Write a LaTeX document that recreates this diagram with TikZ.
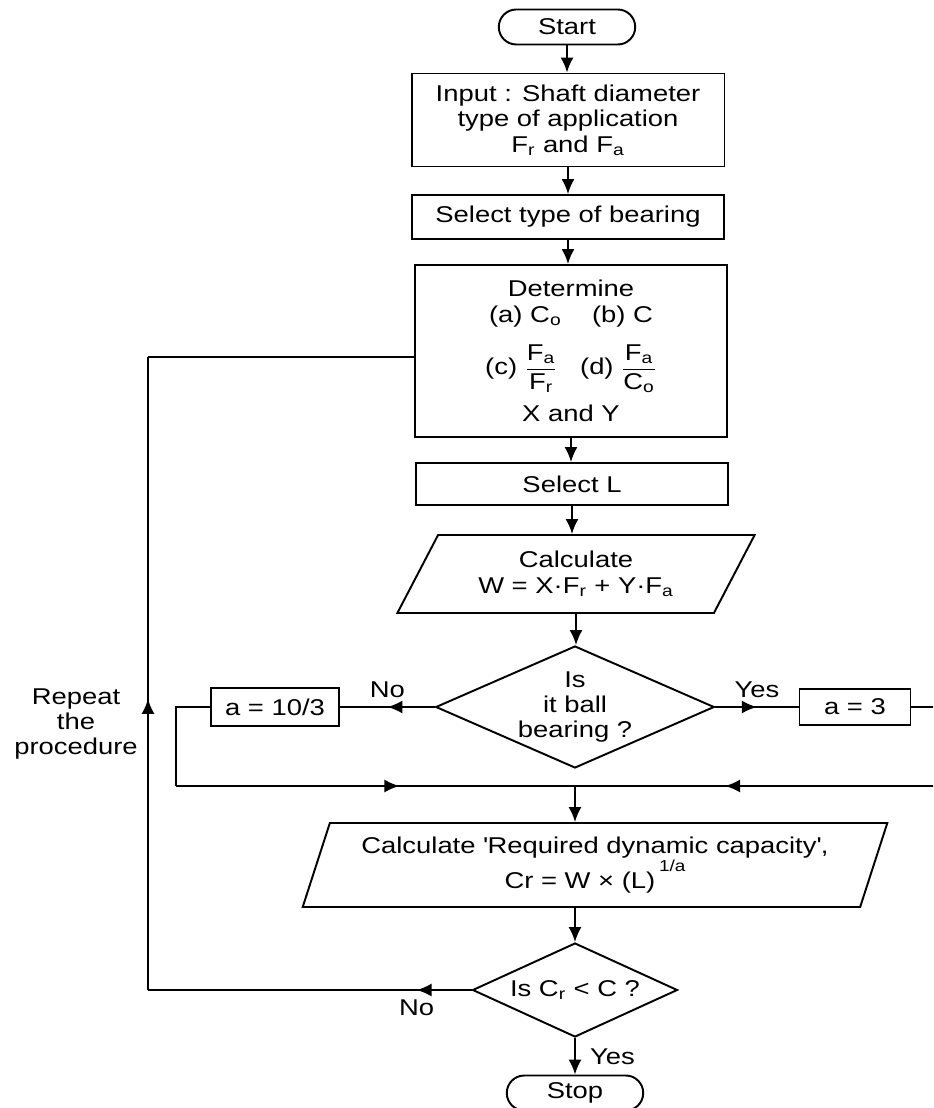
\documentclass[tikz,border=0pt]{standalone}
\usepackage{amsmath}
\usepackage{fontspec}
\setmainfont{Liberation Sans}[FakeStretch=1.2]
\usetikzlibrary{arrows.meta, positioning, shapes.geometric, shapes.misc, decorations.markings}

\begin{document}
\begin{tikzpicture}[
    x=0.02cm, y=-0.02cm,
    font=\fontsize{13}{14.5}\selectfont,
    line width=1.1pt,
    term/.style={draw, rounded rectangle, minimum width=2.8cm, minimum height=0.7cm, inner sep=1pt},
    box/.style={draw, rectangle, align=center, inner sep=2pt},
    io/.style={draw, trapezium, trapezium stretches=true, align=center, inner sep=1pt},
    dec/.style={draw, diamond, aspect=#1, align=center, inner sep=0pt},
    dec/.default=2.2,
    arr/.style={-{Latex[length=3mm, width=2.6mm]}},
    midarr/.style={postaction={decorate}, decoration={markings,
        mark=at position #1 with {\arrow{Latex[length=3mm, width=2.6mm]}}}},
    lbl/.style={align=center, inner sep=2pt},
]
\useasboundingbox (0,0) rectangle (933,1108);
\clip (0,0) rectangle (933,1108);

% Main column
\node[term] (start) at (567,27) {Start};
\node[box, minimum width=6.26cm, minimum height=1.86cm] (inp) at (568,120)
    {Input : Shaft diameter\\type of application\\F\textsubscript{r} and F\textsubscript{a}};
\node[box, minimum width=6.24cm, minimum height=0.88cm] (seltype) at (568,217) {Select type of bearing};
\node[box, minimum width=6.24cm, minimum height=3.44cm] (det) at (571,351)
    {Determine\\(a) C\textsubscript{o}\quad\ (b) C\\[9pt]
     (c) $\dfrac{\text{F}_\text{a}}{\text{F}_\text{r}}$\quad (d) $\dfrac{\text{F}_\text{a}}{\text{C}_\text{o}}$\\[6pt]
     X and Y};
\node[box, minimum width=6.24cm, minimum height=0.84cm] (sell) at (572,484) {Select L};
\node[io, trapezium left angle=59, trapezium right angle=121,
      minimum width=7.16cm, minimum height=1.56cm] (calcw) at (576,574)
    {Calculate\\W = X·F\textsubscript{r} + Y·F\textsubscript{a}};
\node[dec=2.3, minimum width=5.5cm, minimum height=2.44cm] (ball) at (575,707) {Is\\it ball\\bearing ?};

% Branches
\node[box, minimum width=2.56cm, minimum height=0.76cm] (a103) at (275,707) {a = 10/3};
\node[box, minimum width=2.22cm, minimum height=0.72cm] (a3) at (855,707) {a = 3};

\node[io, trapezium left angle=68, trapezium right angle=112,
      minimum width=11.74cm, minimum height=1.68cm] (calcr) at (595,865)
    {Calculate \textquotesingle Required dynamic capacity\textquotesingle,\\
     Cr = W × (L)\,\raisebox{1.4ex}{\fontsize{9}{9}\selectfont 1/a}};
\node[dec=2.2, minimum width=4.1cm, minimum height=1.88cm] (chk) at (575,990) {Is C\textsubscript{r} < C ?};
\node[term] (stop) at (575,1093) {Stop};

% Corner points
\coordinate (mrg) at (575,786);
\coordinate (lft) at (176,786);
\coordinate (rgt) at (950,786);
\coordinate (fbb) at (148,990);
\coordinate (fbt) at (148,357);

% Arrows
\draw[arr] (start.south) -- (start.south |- inp.north);
\draw[arr] (inp.south) -- (inp.south |- seltype.north);
\draw[arr] (seltype.south) -- (seltype.south |- det.north);
\draw[arr] (det.south) -- (det.south |- sell.north);
\draw[arr] (sell.south) -- (sell.south |- calcw.north);
\draw[arr] (calcw.south) -- (calcw.south |- ball.north);
\draw[midarr=0.5] (ball.west) -- node[lbl, above=3pt] {No} (a103.east);
\draw[midarr=0.5] (ball.east) -- node[lbl, above=3pt] {Yes} (a3.west);
\draw (a103.west) -| (lft);
\draw[midarr=0.56] (lft) -- (mrg);
\draw (a3.east) -| (rgt);
\draw[midarr=0.6] (rgt) -- (mrg);
\draw[arr] (mrg) -- (mrg |- calcr.north);
\draw[arr] (calcr.south -| mrg) -- (chk.north);
\draw[midarr=0.17] (chk.west) -- node[lbl, below=3pt, pos=0.17] {No} (fbb);
\draw[midarr=0.46] (fbb) -- (fbt);
\draw (fbt) -- (fbt -| det.west);
\draw[arr] (chk.south) -- node[lbl, right=6pt] {Yes} (stop.north);

% Side label
\node[lbl] (rep) at (76,724) {Repeat\\the\\procedure};
\end{tikzpicture}
\end{document}
